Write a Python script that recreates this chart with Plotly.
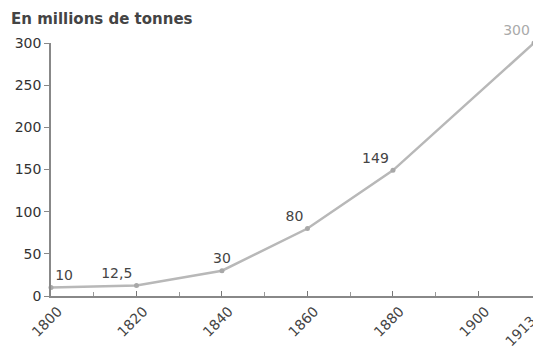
import plotly.graph_objects as go

years = [1800, 1820, 1840, 1860, 1880, 1913]
values = [10, 12.5, 30, 80, 149, 300]
labels = ["10", "12,5", "30", "80", "149", "300"]
label_pos = ["top right", "top left", "top center", "top left", "top left", "top left"]
label_colors = ["#444", "#444", "#444", "#444", "#444", "#aaa"]
x_ticks = [1800, 1820, 1840, 1860, 1880, 1900, 1913]
y_ticks = [0, 50, 100, 150, 200, 250, 300]
title = "En millions de tonnes"

# last label padded so it stays inside the window like in the reference
x_ticktext = [str(v) for v in x_ticks]
x_ticktext[-1] = x_ticktext[-1] + "\u00a0\u00a0\u00a0"

fig = go.Figure()
fig.add_trace(go.Scatter(
    x=years, y=values, mode="lines+markers+text",
    line=dict(color="#b8b8b8", width=2.5),
    marker=dict(color="#a8a8a8", size=5),
    text=labels, textposition=label_pos,
    textfont=dict(family="DejaVu Sans", size=14, color=label_colors),
    cliponaxis=False, hoverinfo="skip",
))

fig.update_layout(
    width=533, height=338,
    margin=dict(l=43, r=7, t=35, b=50),
    paper_bgcolor="white", plot_bgcolor="white",
    showlegend=False,
    font=dict(family="DejaVu Sans", color="#333"),
    annotations=[dict(
        text="<b>" + title + "</b>", x=0, y=1, xref="paper", yref="paper",
        xshift=-42, yshift=13, xanchor="left", yanchor="bottom", showarrow=False,
        font=dict(family="DejaVu Sans", size=15, color="#444"),
    )],
)
fig.update_xaxes(
    range=[1800, 1913], tickmode="array", tickvals=x_ticks,
    ticktext=x_ticktext, tickangle=-45,
    tickfont=dict(size=14, color="#444"), automargin=False,
    ticklabelshift=7, ticklabelstandoff=0, ticklabeloverflow="allow",
    showgrid=False, zeroline=False, showline=True, linecolor="#888", linewidth=1.5,
    ticks="inside", ticklen=5, tickcolor="#777",
    minor=dict(tickvals=[1810, 1830, 1850, 1870, 1890], ticks="inside", ticklen=4, tickcolor="#999"),
)
fig.update_yaxes(
    range=[0, 300], tickmode="array", tickvals=y_ticks,
    tickfont=dict(size=14, color="#333"), automargin=False,
    showgrid=False, zeroline=False, showline=True, linecolor="#888", linewidth=1.5,
    ticks="outside", ticklen=5, tickcolor="#888",
)

fig.write_html("out.html")
